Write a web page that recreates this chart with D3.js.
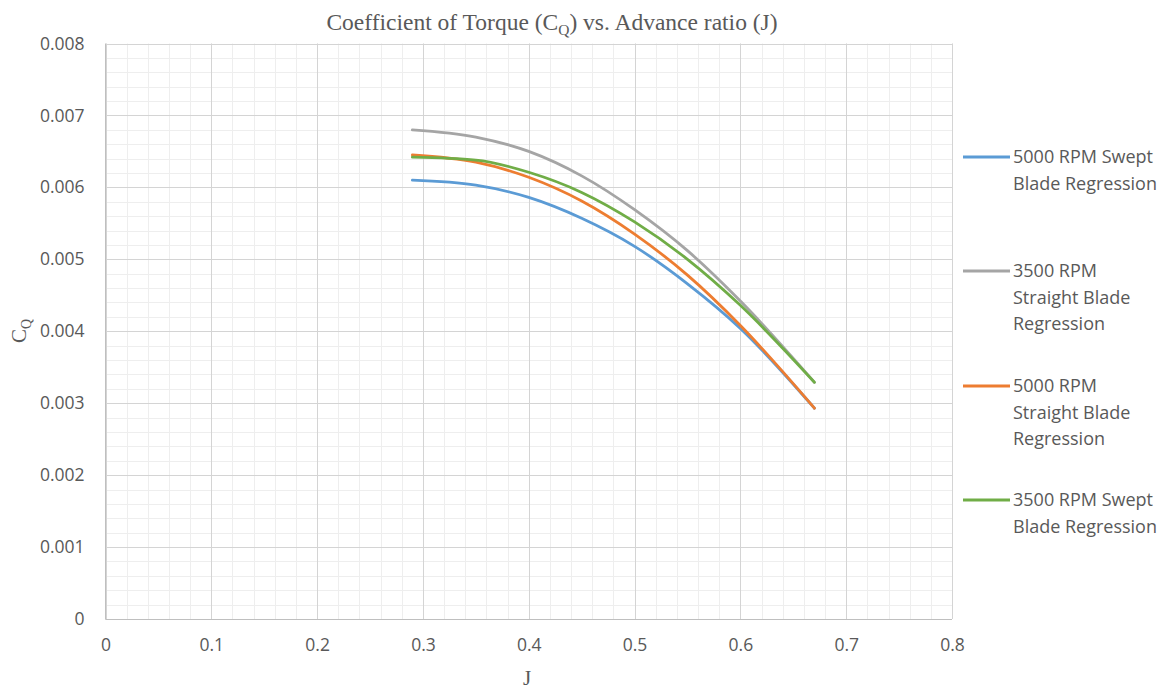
<!DOCTYPE html>
<html><head><meta charset="utf-8">
<script src="https://cdn.jsdelivr.net/npm/d3@7"></script>
<style>body{margin:0;background:#fff}svg{display:block}</style>
</head><body><svg id="c" width="1169" height="690"></svg>
<script>
// Data
const jValues = [0.29, 0.35, 0.40, 0.45, 0.50, 0.55, 0.60, 0.67];
const seriesNames = ["5000 RPM Swept Blade Regression", "3500 RPM Straight Blade Regression", "5000 RPM Straight Blade Regression", "3500 RPM Swept Blade Regression"];
const swept5000 =    [0.00610, 0.00603, 0.00586, 0.00557, 0.00518, 0.00466, 0.00404, 0.00293];
const straight3500 = [0.00680, 0.00670, 0.00650, 0.00616, 0.00569, 0.00512, 0.00442, 0.00329];
const straight5000 = [0.00645, 0.00635, 0.00614, 0.00581, 0.00535, 0.00478, 0.00408, 0.00293];
const swept3500 =    [0.00642, 0.00638, 0.00621, 0.00593, 0.00552, 0.00500, 0.00436, 0.00329];
const legendLines = [["5000 RPM Swept", "Blade Regression"], ["3500 RPM", "Straight Blade", "Regression"], ["5000 RPM", "Straight Blade", "Regression"], ["3500 RPM Swept", "Blade Regression"]];
const xTicks = [0, 0.1, 0.2, 0.3, 0.4, 0.5, 0.6, 0.7, 0.8];
const yTicks = [0, 0.001, 0.002, 0.003, 0.004, 0.005, 0.006, 0.007, 0.008];
const colors = ["#5B9BD5", "#A5A5A5", "#ED7D31", "#70AD47"];

const svg = d3.select("#c");
const L = 105.5, R = 952, T = 43.5, B = 619;
const x = d3.scaleLinear().domain([0, 0.8]).range([L, R]);
const y = d3.scaleLinear().domain([0, 0.008]).range([B, T]);

// minor gridlines
const g = svg.append("g");
g.selectAll(".mx").data(d3.range(0, 0.8001, 0.02)).join("line")
  .attr("x1", d => Math.round(x(d)) + 0.5).attr("x2", d => Math.round(x(d)) + 0.5)
  .attr("y1", T).attr("y2", B).attr("stroke", "#EEEEEE").attr("stroke-width", 1);
g.selectAll(".my").data(d3.range(0, 0.00801, 0.0002)).join("line")
  .attr("y1", d => Math.round(y(d)) + 0.5).attr("y2", d => Math.round(y(d)) + 0.5)
  .attr("x1", L).attr("x2", R).attr("stroke", "#EEEEEE").attr("stroke-width", 1);
// major gridlines
g.selectAll(".Mx").data(xTicks).join("line")
  .attr("x1", d => Math.round(x(d)) + 0.5).attr("x2", d => Math.round(x(d)) + 0.5)
  .attr("y1", T).attr("y2", B).attr("stroke", "#D4D4D4").attr("stroke-width", 1);
g.selectAll(".My").data(yTicks).join("line")
  .attr("y1", d => Math.round(y(d)) + 0.5).attr("y2", d => Math.round(y(d)) + 0.5)
  .attr("x1", L).attr("x2", R).attr("stroke", "#D4D4D4").attr("stroke-width", 1);
// axis lines
g.append("line").attr("x1", L).attr("x2", L).attr("y1", T).attr("y2", B).attr("stroke", "#BFBFBF");
g.append("line").attr("x1", L).attr("x2", R).attr("y1", B + 0.5).attr("y2", B + 0.5).attr("stroke", "#BFBFBF");

// axes labels via d3 axis
const xAxis = svg.append("g").attr("transform", `translate(0,${B})`)
  .call(d3.axisBottom(x).tickValues(xTicks).tickFormat(d => d === 0 ? "0" : d3.format(".1f")(d)).tickSize(0).tickPadding(20));
const yAxis = svg.append("g").attr("transform", `translate(${L},0)`)
  .call(d3.axisLeft(y).tickValues(yTicks).tickFormat(d => d === 0 ? "0" : d3.format(".3f")(d)).tickSize(0).tickPadding(21));
[xAxis, yAxis].forEach(a => {
  a.select(".domain").remove();
  a.selectAll("text").attr("fill", "#595959").attr("font-family", "'Open Sans', sans-serif").attr("font-size", 17.5);
});

// curves
const data = [swept5000, straight3500, straight5000, swept3500];
const line = d3.line().x((d, i) => x(jValues[i])).y(d => y(d)).curve(d3.curveMonotoneX);
svg.append("g").selectAll("path").data(data).join("path")
  .attr("d", d => line(d)).attr("fill", "none")
  .attr("stroke", (d, i) => colors[i]).attr("stroke-width", 2.8).attr("stroke-linecap", "round");

// title
const title = svg.append("text").attr("x", 552).attr("y", 30).attr("text-anchor", "middle")
  .attr("font-family", "'Liberation Serif', serif").attr("font-size", 23.5).attr("fill", "#595959");
title.append("tspan").text("Coefficient of Torque (C");
title.append("tspan").text("Q").attr("font-size", 15.5).attr("dy", 5);
title.append("tspan").text(") vs. Advance ratio (J)").attr("dy", -5);

// axis titles
svg.append("text").attr("x", 527).attr("y", 685).attr("text-anchor", "middle")
  .attr("font-family", "'Liberation Serif', serif").attr("font-size", 21).attr("fill", "#595959").text("J");
const yt = svg.append("text").attr("transform", "translate(26,331) rotate(-90)").attr("text-anchor", "middle")
  .attr("font-family", "'Liberation Serif', serif").attr("font-size", 21).attr("fill", "#595959");
yt.append("tspan").text("C");
yt.append("tspan").text("Q").attr("font-size", 14).attr("dy", 5);

// legend
const legY = [157, 271, 386, 500];
const leg = svg.append("g");
legendLines.forEach((lines, i) => {
  leg.append("line").attr("x1", 963).attr("x2", 1010).attr("y1", legY[i]).attr("y2", legY[i])
    .attr("stroke", colors[i]).attr("stroke-width", 2.8);
  const t = leg.append("text").attr("x", 1013).attr("y", legY[i] + 6)
    .attr("font-family", "'Open Sans', sans-serif").attr("font-size", 18).attr("fill", "#595959");
  lines.forEach((s, k) => t.append("tspan").attr("x", 1013).attr("dy", k === 0 ? 0 : 26.5).text(s));
});
</script></body></html>
